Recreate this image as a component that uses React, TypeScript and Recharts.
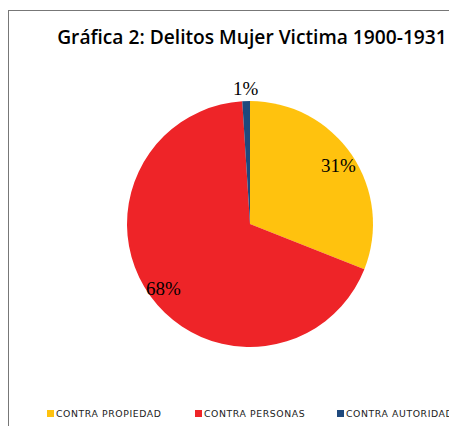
import React from "react";
import { PieChart, Pie, Cell } from "recharts";

const categories = ["CONTRA PROPIEDAD", "CONTRA PERSONAS", "CONTRA AUTORIDAD"];
const shares = [31, 68, 1];
const colors = ["#FFC20E", "#EE2428", "#1F497D"];

const data = categories.map((name, i) => ({ name, value: shares[i] }));

const RAD = Math.PI / 180;

const renderLabel = (props: any) => {
  const { cx, cy, midAngle, outerRadius, value } = props;
  const r = value < 5 ? outerRadius + 13 : outerRadius * 0.87;
  const x = cx + r * Math.cos(-midAngle * RAD);
  const y = cy + r * Math.sin(-midAngle * RAD) + (value < 5 ? 0 : 2);
  return (
    <text
      x={x}
      y={y}
      textAnchor="middle"
      dominantBaseline="central"
      fontFamily="'Liberation Serif', serif"
      fontSize={19}
      fill="#000"
    >
      {value}%
    </text>
  );
};

export default function App() {
  return (
    <div
      style={{
        position: "relative",
        width: 449,
        height: 415,
        marginTop: 2,
        borderTop: "1px solid #777",
        borderLeft: "1px solid #777",
        background: "#fff",
      }}
    >
      <div
        style={{
          position: "absolute",
          left: 0,
          width: 486,
          top: 12,
          textAlign: "center",
          fontFamily: "'Open Sans', sans-serif",
          fontWeight: 600,
          fontSize: 19.2,
          color: "#000",
        }}
      >
        Gráfica 2: Delitos Mujer Victima 1900-1931
      </div>
      <PieChart width={448} height={414}>
        <Pie
          data={data}
          dataKey="value"
          cx={236}
          cy={208}
          outerRadius={123}
          startAngle={90}
          endAngle={-270}
          stroke="none"
          label={renderLabel}
          labelLine={false}
          isAnimationActive={false}
        >
          {data.map((d, i) => (
            <Cell key={d.name} fill={colors[i]} />
          ))}
        </Pie>
      </PieChart>
      <div
        style={{
          position: "absolute",
          top: 397,
          left: 0,
          width: 449,
          fontFamily: "'DejaVu Sans', sans-serif",
          fontSize: 9.3,
          letterSpacing: 0.6,
          color: "#222",
          whiteSpace: "nowrap",
        }}
      >
        {categories.map((c, i) => (
          <span
            key={c}
            style={{
              position: "absolute",
              left: [38, 186, 328][i],
              display: "flex",
              alignItems: "center",
            }}
          >
            <span
              style={{
                display: "inline-block",
                width: 7,
                height: 7,
                background: colors[i],
                marginRight: 2,
              }}
            />
            {c}
          </span>
        ))}
      </div>
    </div>
  );
}
